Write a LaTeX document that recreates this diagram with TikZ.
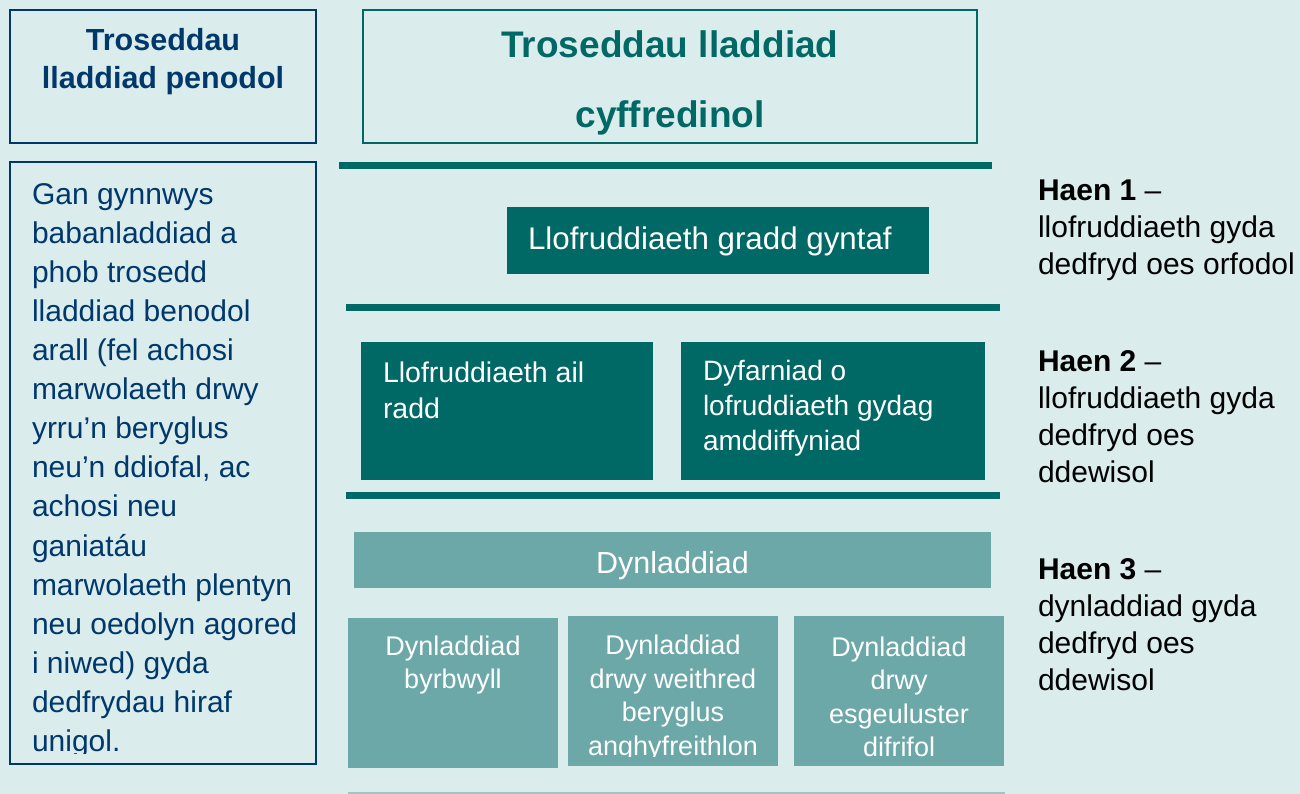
\documentclass[tikz,border=0pt]{standalone}
\usepackage{fontspec}
\setmainfont{Liberation Sans}
\definecolor{bg}{RGB}{219,236,236}
\definecolor{dteal}{RGB}{0,104,101}
\definecolor{mteal}{RGB}{108,168,168}
\definecolor{navy}{RGB}{0,56,107}
\definecolor{lline}{RGB}{160,197,197}
\tikzset{
  navybox/.style={draw=navy, line width=2.5pt, fill=none, inner sep=0pt},
  tealframe/.style={draw=dteal, line width=2pt, fill=none, inner sep=0pt},
  darkbox/.style={fill=dteal, draw=none, inner sep=0pt},
  lightbox/.style={fill=mteal, draw=none, inner sep=0pt},
  sepline/.style={draw=dteal, line width=7.5pt},
  txt/.style={inner sep=0pt, outer sep=0pt},
  whitetxt/.style={txt, text=white},
}
\begin{document}
\begin{tikzpicture}[x=1pt,y=-1pt]
\fill[bg] (0,0) rectangle (1300,794);
\useasboundingbox (0,0) rectangle (1300,794);

% boxes
\node[navybox, minimum width=306pt, minimum height=133pt] (spechead) at (163,76.5) {};
\node[navybox, minimum width=306pt, minimum height=602pt] (specbody) at (163,463) {};
\node[tealframe, minimum width=614pt, minimum height=133pt] (genhead) at (670,76.5) {};
\node[darkbox, minimum width=422pt, minimum height=67pt] (t1box) at (718,240.5) {};
\node[darkbox, minimum width=292pt, minimum height=138pt] (t2a) at (507,411) {};
\node[darkbox, minimum width=304pt, minimum height=138pt] (t2b) at (833,411) {};
\node[lightbox, minimum width=637pt, minimum height=56pt] (dyn) at (672.5,560) {};
\node[lightbox, minimum width=210pt, minimum height=150pt] (b1) at (453,693) {};
\node[lightbox, minimum width=210pt, minimum height=150pt] (b2) at (673,691) {};
\node[lightbox, minimum width=210pt, minimum height=150pt] (b3) at (899,691) {};

% separator lines
\coordinate (s1a) at (339,165.5); \coordinate (s1b) at (992,165.5);
\coordinate (s2a) at (346,307.5); \coordinate (s2b) at (1000,307.5);
\coordinate (s3a) at (346,495.5); \coordinate (s3b) at (1000,495.5);
\coordinate (s4a) at (348,793); \coordinate (s4b) at (1005,793);
\draw[sepline] (s1a) -- (s1b);
\draw[sepline] (s2a) -- (s2b);
\draw[sepline] (s3a) -- (s3b);
\draw[draw=lline, line width=2pt] (s4a) -- (s4b);

% header texts
\node[txt, text=navy, align=center, font=\bfseries\fontsize{30.5}{38}\selectfont] (spechtxt) at (163,62) {Troseddau\\lladdiad penodol};
\node[txt, text=dteal, align=center, font=\bfseries\fontsize{37}{70}\selectfont] (genhtxt) at (670,83) {Troseddau lladdiad\\cyffredinol};

% left body text (clipped at bottom)
\begin{scope}
\clip (12,164) rectangle (314,753);
\node[txt, text=navy, align=left, anchor=west, font=\fontsize{30}{39.1}\selectfont] (specbtxt) at (32,470.5) {Gan gynnwys\\babanladdiad a\\phob trosedd\\lladdiad benodol\\arall (fel achosi\\marwolaeth drwy\\yrru’n beryglus\\neu’n ddiofal, ac\\achosi neu\\ganiatáu\\marwolaeth plentyn\\neu oedolyn agored\\i niwed) gyda\\dedfrydau hiraf\\unigol.};
\end{scope}

% tier 1
\node[whitetxt, anchor=west, font=\fontsize{31.3}{37}\selectfont] (t1txt) at (528,241) {Llofruddiaeth gradd gyntaf};

% tier 2
\node[whitetxt, anchor=west, align=left, font=\fontsize{28.5}{36}\selectfont] (t2atxt) at (383,390) {Llofruddiaeth ail\\radd};
\node[whitetxt, anchor=west, align=left, font=\fontsize{28}{35}\selectfont] (t2btxt) at (703,408) {Dyfarniad o\\lofruddiaeth gydag\\amddiffyniad};

% tier 3
\node[whitetxt, font=\fontsize{30.5}{37}\selectfont] (dyntxt) at (672.5,565.5) {Dynladdiad};
\node[whitetxt, align=center, font=\fontsize{27}{33.5}\selectfont] (b1txt) at (453,665) {Dynladdiad\\byrbwyll};
\begin{scope}
\clip (568,616) rectangle (1004,756);
\node[whitetxt, align=center, font=\fontsize{27}{33.5}\selectfont] (b2txt) at (673,698) {Dynladdiad\\drwy weithred\\beryglus\\anghyfreithlon};
\node[whitetxt, align=center, font=\fontsize{27}{33.5}\selectfont] (b3txt) at (899,697) {Dynladdiad\\drwy\\esgeuluster\\difrifol};
\end{scope}

% right tier labels
\node[txt, anchor=west, align=left, font=\fontsize{30}{37}\selectfont] (h1) at (1038,230) {\textbf{Haen 1} –\\llofruddiaeth gyda\\dedfryd oes orfodol};
\node[txt, anchor=west, align=left, font=\fontsize{30}{37}\selectfont] (h2) at (1038,417) {\textbf{Haen 2} –\\llofruddiaeth gyda\\dedfryd oes\\ddewisol};
\node[txt, anchor=west, align=left, font=\fontsize{30}{37}\selectfont] (h3) at (1038,624.5) {\textbf{Haen 3} –\\dynladdiad gyda\\dedfryd oes\\ddewisol};
\end{tikzpicture}
\end{document}
